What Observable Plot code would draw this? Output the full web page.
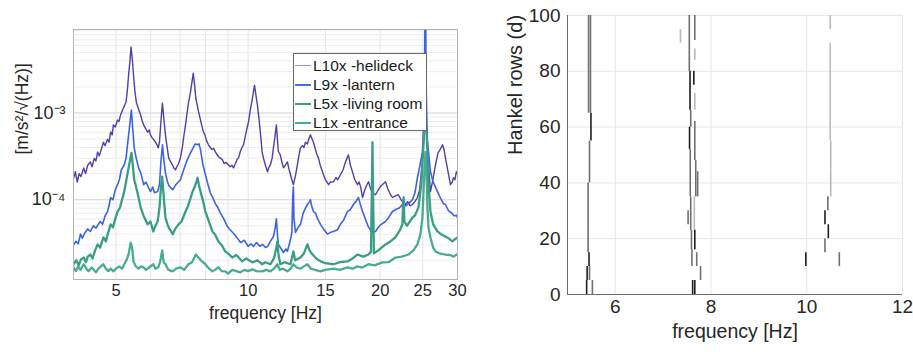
<!DOCTYPE html>
<html><head><meta charset="utf-8">
<script src="https://cdn.jsdelivr.net/npm/d3@7"></script>
<script src="https://cdn.jsdelivr.net/npm/@observablehq/plot@0.6"></script>
<style>
body{margin:0;background:#fff;font-family:"Liberation Sans",Arial,sans-serif}
#wrap{position:relative;width:913px;height:352px;overflow:hidden;background:#fff}
#left{position:absolute;left:0;top:0}
#right{position:absolute;left:460px;top:0}
#legend{position:absolute;left:293px;top:53px;width:134px;height:78px;border:1px solid #666;background:#fff;box-sizing:border-box;font-size:15.5px;color:#1a1a1a}
.row{position:absolute;left:0;height:19px;display:flex;align-items:center;white-space:nowrap}
.ln{display:inline-block;width:16px;margin-left:1px;margin-right:2px}
</style></head>
<body>
<div id="wrap"><div id="left"></div><div id="right"></div><div id="legend"></div></div>
<script>
// ---------- Left panel: spectra [frequency Hz, amplitude m/s^2/sqrt(Hz)] ----------
const l10x = [[4.00,1.75e-4],[4.04,2.1e-4],[4.08,1.6e-4],[4.12,2.0e-4],[4.16,1.85e-4],[4.22,2.33e-4],[4.26,2.0e-4],[4.31,2.5e-4],[4.37,2.73e-4],[4.41,2.4e-4],[4.46,3.0e-4],[4.50,2.8e-4],[4.54,3.56e-4],[4.58,3.2e-4],[4.62,3.7e-4],[4.68,4.6e-4],[4.72,4.2e-4],[4.78,5.0e-4],[4.82,4.6e-4],[4.86,6.05e-4],[4.90,5.6e-4],[4.93,7.3e-4],[4.98,6.9e-4],[5.04,8.3e-4],[5.08,8.0e-4],[5.12,9.5e-4],[5.18,1.1e-3],[5.22,1.2e-3],[5.27,1.34e-3],[5.31,1.9e-3],[5.34,2.73e-3],[5.38,4.0e-3],[5.41,5.78e-3],[5.45,4.0e-3],[5.48,2.73e-3],[5.52,1.8e-3],[5.56,1.34e-3],[5.60,1.2e-3],[5.65,1.05e-3],[5.69,9.5e-4],[5.74,8.0e-4],[5.78,7.3e-4],[5.84,6.6e-4],[5.90,6.0e-4],[5.95,6.4e-4],[5.99,5.6e-4],[6.04,5.2e-4],[6.08,5.0e-4],[6.15,4.6e-4],[6.20,4.3e-4],[6.24,3.96e-4],[6.28,4.6e-4],[6.31,6.5e-4],[6.35,1.0e-3],[6.38,1.30e-3],[6.42,9.0e-4],[6.48,5.6e-4],[6.53,4.2e-4],[6.59,3.04e-4],[6.66,2.73e-4],[6.73,2.5e-4],[6.78,2.3e-4],[6.83,2.21e-4],[6.88,2.4e-4],[6.94,2.6e-4],[7.01,3.04e-4],[7.08,4.0e-4],[7.14,5.5e-4],[7.20,7.3e-4],[7.26,1.0e-3],[7.31,1.3e-3],[7.39,1.74e-3],[7.45,2.3e-3],[7.50,2.88e-3],[7.55,2.1e-3],[7.60,1.49e-3],[7.64,1.3e-3],[7.71,1.03e-3],[7.76,9.0e-4],[7.83,7.4e-4],[7.91,6.05e-4],[7.97,5.6e-4],[8.04,4.8e-4],[8.12,4.3e-4],[8.20,4.0e-4],[8.28,3.8e-4],[8.35,3.9e-4],[8.42,3.56e-4],[8.50,3.3e-4],[8.58,3.1e-4],[8.66,3.0e-4],[8.74,2.88e-4],[8.82,2.6e-4],[8.90,2.7e-4],[9.01,2.53e-4],[9.10,2.4e-4],[9.18,2.5e-4],[9.26,2.33e-4],[9.35,2.6e-4],[9.43,2.9e-4],[9.51,3.04e-4],[9.60,3.6e-4],[9.68,4.0e-4],[9.76,4.3e-4],[9.88,5.8e-4],[10.02,7.9e-4],[10.12,1.1e-3],[10.23,1.49e-3],[10.34,2.10e-3],[10.42,1.6e-3],[10.50,1.24e-3],[10.60,8.0e-4],[10.70,5.0e-4],[10.76,3.56e-4],[10.86,2.9e-4],[10.95,2.5e-4],[11.07,2.1e-4],[11.13,2.3e-4],[11.24,2.53e-4],[11.34,3.0e-4],[11.42,3.96e-4],[11.52,5.5e-4],[11.60,7.3e-4],[11.66,5.0e-4],[11.72,3.6e-4],[11.84,3.29e-4],[11.94,2.7e-4],[12.04,2.33e-4],[12.16,2.5e-4],[12.29,2.73e-4],[12.38,2.3e-4],[12.49,1.94e-4],[12.58,1.7e-4],[12.68,1.49e-4],[12.82,1.9e-4],[12.95,2.53e-4],[13.05,3.2e-4],[13.16,3.96e-4],[13.30,4.2e-4],[13.40,4.0e-4],[13.51,4.6e-4],[13.65,4.4e-4],[13.75,5.0e-4],[13.87,5.6e-4],[13.95,5.2e-4],[14.09,4.6e-4],[14.20,4.0e-4],[14.35,3.3e-4],[14.46,3.04e-4],[14.60,2.5e-4],[14.85,1.94e-4],[15.00,1.7e-4],[15.25,1.49e-4],[15.40,1.6e-4],[15.65,1.61e-4],[15.85,1.8e-4],[16.00,1.7e-4],[16.23,1.94e-4],[16.45,2.2e-4],[16.67,2.73e-4],[16.93,3.29e-4],[17.10,2.5e-4],[17.29,2.10e-4],[17.50,1.7e-4],[17.75,1.49e-4],[17.90,1.6e-4],[18.05,1.4e-4],[18.23,1.06e-4],[18.40,1.25e-4],[18.60,1.45e-4],[18.81,1.61e-4],[19.00,1.35e-4],[19.20,1.2e-4],[19.51,1.14e-4],[19.80,1.3e-4],[20.10,1.45e-4],[20.56,1.61e-4],[20.80,1.35e-4],[21.00,1.2e-4],[21.32,1.06e-4],[21.60,1.1e-4],[21.99,1.14e-4],[22.30,1.0e-4],[22.82,8.8e-5],[23.10,9.5e-5],[23.40,8.5e-5],[23.68,8.8e-5],[24.00,9.5e-5],[24.31,1.06e-4],[24.60,1.3e-4],[24.90,2.5e-4],[25.20,6.0e-4],[25.36,1.0e-3],[25.55,6.0e-4],[25.76,2.5e-4],[26.03,1.24e-4],[26.30,1.6e-4],[26.73,2.53e-4],[27.10,3.5e-4],[27.40,3.8e-4],[27.73,4.3e-4],[27.95,3.8e-4],[28.16,3.04e-4],[28.50,2.2e-4],[28.91,1.49e-4],[29.20,1.6e-4],[29.37,1.79e-4],[29.60,1.7e-4],[29.82,2.10e-4],[30.00,2.0e-4]];
const l9x = [[4.00,3.0e-5],[4.05,3.3e-5],[4.10,3.1e-5],[4.15,4.0e-5],[4.19,3.6e-5],[4.24,4.1e-5],[4.31,4.6e-5],[4.37,4.3e-5],[4.44,5.0e-5],[4.50,4.7e-5],[4.60,5.6e-5],[4.66,5.2e-5],[4.72,6.5e-5],[4.78,7.3e-5],[4.82,8.5e-5],[4.86,1.06e-4],[4.92,1.0e-4],[4.98,1.3e-4],[5.04,1.49e-4],[5.09,1.7e-4],[5.14,2.2e-4],[5.22,2.53e-4],[5.27,3.0e-4],[5.31,4.3e-4],[5.36,6.5e-4],[5.42,1.08e-3],[5.46,6.5e-4],[5.50,3.96e-4],[5.56,3.0e-4],[5.63,2.33e-4],[5.70,2.0e-4],[5.78,1.49e-4],[5.85,1.6e-4],[5.99,1.24e-4],[6.06,1.4e-4],[6.12,1.2e-4],[6.22,1.24e-4],[6.28,1.5e-4],[6.33,2.8e-4],[6.38,4.3e-4],[6.42,3.0e-4],[6.48,2.04e-4],[6.55,1.6e-4],[6.60,1.45e-4],[6.73,1.30e-4],[6.85,1.5e-4],[7.01,1.70e-4],[7.15,2.3e-4],[7.25,2.8e-4],[7.39,3.47e-4],[7.50,4.0e-4],[7.58,4.4e-4],[7.67,4.3e-4],[7.73,4.4e-4],[7.79,3.76e-4],[7.88,2.6e-4],[7.98,2.0e-4],[8.08,1.57e-4],[8.20,1.2e-4],[8.30,1.06e-4],[8.42,9.0e-5],[8.51,8.3e-5],[8.65,7.0e-5],[8.80,6.0e-5],[8.97,4.9e-5],[9.10,4.5e-5],[9.30,4.0e-5],[9.45,3.6e-5],[9.61,3.2e-5],[9.80,3.4e-5],[10.00,2.9e-5],[10.15,3.1e-5],[10.28,2.88e-5],[10.45,3.2e-5],[10.64,2.9e-5],[10.80,3.05e-5],[10.95,2.8e-5],[11.07,2.88e-5],[11.24,3.3e-5],[11.42,3.76e-5],[11.53,4.8e-5],[11.60,6.0e-5],[11.66,4.0e-5],[11.72,3.05e-5],[11.90,2.7e-5],[12.04,2.46e-5],[12.20,2.7e-5],[12.29,2.53e-5],[12.49,3.47e-5],[12.58,4.2e-5],[12.64,1.1e-4],[12.68,1.4e-4],[12.72,6.0e-5],[12.82,4.2e-5],[13.00,4.8e-5],[13.16,5.2e-5],[13.35,7.0e-5],[13.51,8.0e-5],[13.65,8.8e-5],[13.80,9.5e-5],[13.87,1.0e-4],[13.95,8.5e-5],[14.09,7.3e-5],[14.24,7.0e-5],[14.40,6.0e-5],[14.62,5.2e-5],[14.85,4.6e-5],[15.17,4.0e-5],[15.41,4.2e-5],[15.65,4.3e-5],[15.98,4.5e-5],[16.23,5.2e-5],[16.50,5.8e-5],[16.84,7.3e-5],[17.10,7.7e-5],[17.38,8.8e-5],[17.60,9.5e-5],[17.84,1.06e-4],[18.00,9.0e-5],[18.23,7.3e-5],[18.50,6.0e-5],[18.81,4.8e-5],[19.00,4.5e-5],[19.25,4.2e-5],[19.51,4.3e-5],[19.80,4.8e-5],[20.10,5.2e-5],[20.56,5.6e-5],[20.90,6.2e-5],[21.32,7.3e-5],[21.70,7.7e-5],[22.10,8.0e-5],[22.47,8.8e-5],[22.90,8.5e-5],[23.20,9.0e-5],[23.68,1.0e-4],[24.00,1.2e-4],[24.31,1.79e-4],[24.60,2.4e-4],[24.96,3.56e-4],[25.15,8.0e-4],[25.25,4.0e-3],[25.30,2.0e-2],[25.38,2.0e-2],[25.45,2.0e-3],[25.60,5.0e-4],[26.03,2.10e-4],[26.40,1.6e-4],[27.01,1.24e-4],[27.40,1.06e-4],[27.87,9.0e-5],[28.16,8.8e-5],[28.60,7.5e-5],[29.21,6.9e-5],[29.50,6.5e-5],[29.82,6.6e-5],[30.00,6.2e-5]];
const l5x = [[4.00,1.80e-5],[4.06,2.0e-5],[4.11,1.75e-5],[4.16,2.05e-5],[4.22,2.15e-5],[4.27,1.9e-5],[4.31,2.2e-5],[4.37,2.33e-5],[4.42,2.1e-5],[4.48,2.6e-5],[4.54,3.05e-5],[4.60,2.8e-5],[4.68,3.67e-5],[4.74,3.3e-5],[4.80,4.2e-5],[4.86,5.2e-5],[4.92,4.8e-5],[4.98,6.0e-5],[5.04,7.3e-5],[5.10,8.0e-5],[5.16,1.0e-4],[5.22,1.24e-4],[5.28,1.7e-4],[5.34,2.33e-4],[5.42,3.47e-4],[5.46,2.5e-4],[5.50,1.7e-4],[5.54,1.49e-4],[5.62,1.1e-4],[5.69,8.1e-5],[5.78,6.5e-5],[5.90,5.2e-5],[5.99,5.6e-5],[6.08,4.3e-5],[6.15,5.0e-5],[6.22,5.6e-5],[6.28,8.0e-5],[6.33,1.4e-4],[6.37,1.85e-4],[6.42,1.1e-4],[6.48,6.2e-5],[6.55,5.2e-5],[6.59,4.8e-5],[6.66,4.4e-5],[6.73,4.0e-5],[6.82,4.6e-5],[6.94,5.2e-5],[7.05,5.6e-5],[7.20,7.3e-5],[7.30,8.5e-5],[7.47,1.24e-4],[7.55,1.4e-4],[7.62,1.6e-4],[7.67,1.79e-4],[7.72,1.5e-4],[7.79,1.24e-4],[7.90,9.5e-5],[7.99,7.3e-5],[8.10,6.0e-5],[8.29,4.3e-5],[8.40,4.0e-5],[8.56,3.3e-5],[8.70,3.0e-5],[8.87,2.53e-5],[9.00,2.4e-5],[9.20,2.15e-5],[9.40,2.3e-5],[9.70,1.94e-5],[9.90,2.1e-5],[10.23,1.89e-5],[10.50,2.0e-5],[10.76,1.80e-5],[10.95,1.9e-5],[11.24,1.80e-5],[11.45,2.1e-5],[11.60,2.8e-5],[11.66,3.3e-5],[11.72,2.4e-5],[11.84,1.80e-5],[12.10,1.9e-5],[12.49,1.80e-5],[12.60,2.2e-5],[12.68,2.53e-5],[12.80,2.0e-5],[13.16,2.15e-5],[13.40,2.4e-5],[13.65,3.05e-5],[13.80,2.6e-5],[14.02,2.33e-5],[14.30,2.1e-5],[14.62,1.94e-5],[15.00,1.85e-5],[15.65,1.80e-5],[16.20,1.9e-5],[16.84,1.94e-5],[17.30,2.1e-5],[17.75,2.33e-5],[18.30,2.2e-5],[18.81,2.33e-5],[19.05,2.5e-5],[19.15,1.5e-4],[19.20,4.6e-4],[19.25,1.5e-4],[19.35,2.4e-5],[19.80,2.6e-5],[20.56,3.05e-5],[21.10,3.3e-5],[21.66,3.67e-5],[22.20,4.5e-5],[22.47,5.2e-5],[22.55,9.0e-5],[22.62,1.06e-4],[22.70,5.6e-5],[23.00,5.0e-5],[23.68,6.2e-5],[24.00,6.6e-5],[24.44,8.1e-5],[24.80,1.5e-4],[24.96,2.53e-4],[25.10,4.5e-4],[25.22,7.3e-4],[25.36,7.5e-4],[25.50,6.0e-4],[25.62,3.5e-4],[25.76,1.5e-4],[26.03,7.3e-5],[26.40,5.2e-5],[27.01,4.3e-5],[27.50,4.0e-5],[28.16,3.76e-5],[28.60,3.6e-5],[29.21,3.30e-5],[29.60,3.5e-5],[30.00,3.67e-5]];
const l1x = [[4.00,1.66e-5],[4.05,1.5e-5],[4.10,1.7e-5],[4.15,1.55e-5],[4.22,1.80e-5],[4.28,1.6e-5],[4.33,1.5e-5],[4.40,1.65e-5],[4.44,1.57e-5],[4.50,1.45e-5],[4.56,1.6e-5],[4.62,1.7e-5],[4.68,1.80e-5],[4.74,1.6e-5],[4.80,1.5e-5],[4.86,1.6e-5],[4.93,1.49e-5],[5.00,1.6e-5],[5.08,1.7e-5],[5.16,1.6e-5],[5.22,1.80e-5],[5.28,2.0e-5],[5.34,2.33e-5],[5.40,3.2e-5],[5.44,2.8e-5],[5.48,1.94e-5],[5.55,1.7e-5],[5.63,1.6e-5],[5.70,1.7e-5],[5.78,1.66e-5],[5.85,1.55e-5],[5.95,1.65e-5],[6.08,1.80e-5],[6.15,1.6e-5],[6.24,1.66e-5],[6.30,1.9e-5],[6.37,2.6e-5],[6.42,1.9e-5],[6.48,1.80e-5],[6.58,1.55e-5],[6.73,1.49e-5],[6.85,1.6e-5],[7.01,1.66e-5],[7.15,1.55e-5],[7.31,1.80e-5],[7.45,1.9e-5],[7.60,2.33e-5],[7.71,2.15e-5],[7.80,2.0e-5],[7.99,1.80e-5],[8.15,1.6e-5],[8.29,1.49e-5],[8.40,1.55e-5],[8.56,1.66e-5],[8.70,1.5e-5],[8.87,1.49e-5],[9.00,1.4e-5],[9.20,1.55e-5],[9.40,1.5e-5],[9.60,1.45e-5],[9.80,1.55e-5],[10.00,1.5e-5],[10.23,1.57e-5],[10.45,1.5e-5],[10.76,1.49e-5],[11.00,1.55e-5],[11.24,1.49e-5],[11.45,1.6e-5],[11.66,1.80e-5],[11.80,1.55e-5],[12.00,1.6e-5],[12.29,1.49e-5],[12.50,1.6e-5],[12.68,1.80e-5],[12.90,1.65e-5],[13.16,1.6e-5],[13.40,1.7e-5],[13.65,1.80e-5],[13.90,1.6e-5],[14.20,1.55e-5],[14.62,1.49e-5],[15.00,1.55e-5],[15.65,1.6e-5],[16.20,1.55e-5],[16.84,1.66e-5],[17.30,1.6e-5],[17.75,1.70e-5],[18.20,1.65e-5],[18.81,1.80e-5],[19.40,1.75e-5],[20.24,1.89e-5],[20.90,1.9e-5],[21.66,2.15e-5],[22.40,2.2e-5],[23.19,2.33e-5],[23.80,2.6e-5],[24.31,3.05e-5],[24.70,4.0e-5],[24.96,6.2e-5],[25.15,1.6e-4],[25.36,3.56e-4],[25.50,2.0e-4],[25.62,8.0e-5],[25.76,4.8e-5],[26.03,3.67e-5],[26.40,2.8e-5],[26.73,2.53e-5],[27.30,2.4e-5],[28.16,2.33e-5],[28.90,2.3e-5],[29.40,2.2e-5],[29.82,2.33e-5],[30.00,2.3e-5]];
const seriesNames = ["L10x -helideck", "L9x -lantern", "L5x -living room", "L1x -entrance"];
const leftXTicks = [5, 10, 15, 20, 25, 30];
const leftXGrid = [4, 5, 6, 7, 8, 9, 10, 15, 20, 25, 30];
const leftYTicks = [1e-4, 1e-3];
const leftYGrid = [2e-5,3e-5,4e-5,5e-5,6e-5,7e-5,8e-5,9e-5,1e-4,2e-4,3e-4,4e-4,5e-4,6e-4,7e-4,8e-4,9e-4,1e-3,2e-3,3e-3,4e-3,5e-3,6e-3,7e-3,8e-3,9e-3];

// ---------- Right panel: stabilization diagram segments ----------
// f: frequency [Hz], d0..d1: Hankel rows range, w: stability weight (1 weak .. 3 strong)
const stab = [
 {f:5.44,d0:65,d1:100,w:2},{f:5.48,d0:65,d1:100,w:2},{f:5.49,d0:55,d1:65,w:3},{f:5.46,d0:40,d1:55,w:2},
 {f:5.43,d0:25,d1:40,w:2},{f:5.43,d0:15,d1:25,w:2},{f:5.45,d0:10,d1:15,w:3},{f:5.41,d0:5,d1:10,w:3},
 {f:5.46,d0:5,d1:10,w:2},{f:5.40,d0:0,d1:5,w:3},{f:5.52,d0:0,d1:5,w:2},
 {f:7.545,d0:80,d1:100,w:2},{f:7.56,d0:66,d1:80,w:3},{f:7.575,d0:60,d1:66,w:2},{f:7.55,d0:52,d1:60,w:3},
 {f:7.565,d0:35,d1:52,w:2},{f:7.575,d0:23,d1:35,w:2},{f:7.59,d0:16,d1:23,w:2},{f:7.60,d0:10,d1:16,w:2},
 {f:7.615,d0:0,d1:5,w:3},
 {f:7.66,d0:91,d1:100,w:2},{f:7.66,d0:84,d1:88,w:1},{f:7.64,d0:75,d1:80,w:3},{f:7.66,d0:66,d1:72,w:1},
 {f:7.66,d0:48,d1:62,w:2},{f:7.68,d0:35,d1:48,w:2},{f:7.72,d0:35,d1:44,w:2},{f:7.65,d0:23,d1:35,w:1},
 {f:7.66,d0:16,d1:23,w:3},{f:7.70,d0:10,d1:15,w:2},{f:7.78,d0:5,d1:10,w:2},{f:7.66,d0:0,d1:5,w:3},
 {f:7.36,d0:90,d1:95,w:1},{f:7.52,d0:25,d1:30,w:2},
 {f:10.49,d0:95,d1:100,w:1},{f:10.49,d0:55,d1:90,w:1},{f:10.50,d0:45,d1:55,w:1},{f:10.50,d0:35,d1:45,w:1},
 {f:10.44,d0:30,d1:35,w:2},{f:10.38,d0:25,d1:30,w:3},{f:10.45,d0:20,d1:25,w:3},{f:10.38,d0:15,d1:20,w:2},
 {f:9.98,d0:10,d1:15,w:3},{f:10.68,d0:10,d1:15,w:2}
];
const rightXTicks = [6, 8, 10, 12];
const rightYTicks = [0, 20, 40, 60, 80, 100];

// ---------- drawing ----------
const FONT = "Liberation Sans, Arial, Helvetica, sans-serif";
const supMap = {"-":"⁻","0":"⁰","1":"¹","2":"²","3":"³","4":"⁴","5":"⁵","6":"⁶","7":"⁷","8":"⁸","9":"⁹"};
const logFmt = v => "10" + String(Math.round(Math.log10(v))).split("").map(c => supMap[c]).join("");
const colors = {l10: "#4f3fa6", l9: "#3d63e0", l5: "#3a9d86", l1: "#48ac93"};
const legendColors = ["#9a8fd2", "#4a6fe3", "#3a9d86", "#47ab92"];

const pt = {x: d => d[0], y: d => d[1], clip: true};
const left = Plot.plot({
  width: 470, height: 352,
  marginLeft: 73, marginRight: 13, marginTop: 29, marginBottom: 73,
  style: {fontFamily: FONT, fontSize: "16px", color: "#262626", background: "transparent", overflow: "visible"},
  x: {type: "log", domain: [4, 30], axis: null},
  y: {type: "log", domain: [1.2e-5, 9.2e-3], axis: null},
  marks: [
    Plot.ruleX(leftXGrid, {stroke: "#e3e3e3", strokeWidth: 1}),
    Plot.ruleY(leftYGrid, {stroke: "#ececec", strokeWidth: 1}),
    Plot.ruleY(leftYTicks, {stroke: "#dadada", strokeWidth: 1}),
    Plot.line(l10x, {...pt, stroke: colors.l10, strokeWidth: 1.4}),
    Plot.line(l9x, {...pt, stroke: colors.l9, strokeWidth: 1.6}),
    Plot.line(l1x, {...pt, stroke: colors.l1, strokeWidth: 2.3}),
    Plot.line(l5x, {...pt, stroke: colors.l5, strokeWidth: 2.3}),
    Plot.frame({stroke: "#b5b5b5"}),
    Plot.text(leftXTicks, {x: d => d, frameAnchor: "bottom", dy: 16, text: d => String(d), fontSize: 16.5, fill: "#262626"}),
    Plot.text(leftYTicks, {y: d => d, frameAnchor: "left", dx: -8, textAnchor: "end", text: logFmt, fontSize: 18, fill: "#262626"}),
    Plot.text(["frequency [Hz]"], {frameAnchor: "bottom", dy: 39, text: d => d, fontSize: 17.5, fill: "#262626"}),
    Plot.text(["[m/s²/√(Hz)]"], {frameAnchor: "left", dx: -51, rotate: -90, text: d => d, fontSize: 17.5, fill: "#262626"})
  ]
});
document.getElementById("left").appendChild(left);

const legend = document.getElementById("legend");
seriesNames.forEach((name, i) => {
  const row = document.createElement("div");
  row.className = "row";
  row.style.top = (2 + i * 19) + "px";
  const ln = document.createElement("span");
  ln.className = "ln";
  ln.style.borderTop = (i === 0 ? 1.2 : 2) + "px solid " + legendColors[i];
  const tx = document.createElement("span");
  tx.textContent = name;
  row.appendChild(ln); row.appendChild(tx);
  legend.appendChild(row);
});

const right = Plot.plot({
  width: 453, height: 352,
  marginLeft: 107, marginRight: 11, marginTop: 15, marginBottom: 58,
  style: {fontFamily: FONT, fontSize: "19px", color: "#262626", background: "transparent", overflow: "visible"},
  x: {domain: [5, 12], axis: null},
  y: {domain: [0, 100], axis: null},
  color: {type: "ordinal", domain: [1, 2, 3], range: ["#b9b9b9", "#6f6f6f", "#1e1e1e"]},
  marks: [
    Plot.ruleX(rightXTicks, {stroke: "#e6e6e6"}),
    Plot.ruleY(rightYTicks.slice(1), {stroke: "#e6e6e6"}),
    Plot.ruleX(stab, {x: "f", y1: "d0", y2: "d1", stroke: "w", strokeWidth: 1.6}),
    Plot.ruleX([5], {stroke: "#6b6b6b"}),
    Plot.ruleY([0], {stroke: "#6b6b6b"}),
    Plot.text(rightXTicks, {x: d => d, frameAnchor: "bottom", dy: 18, text: d => String(d), fontSize: 19, fill: "#262626"}),
    Plot.text(rightYTicks, {y: d => d, frameAnchor: "left", dx: -7, textAnchor: "end", text: d => String(d), fontSize: 19, fill: "#262626"}),
    Plot.text(["frequency [Hz]"], {frameAnchor: "bottom", dy: 43, text: d => d, fontSize: 19.5, fill: "#262626"}),
    Plot.text(["Hankel rows (d)"], {frameAnchor: "left", dx: -52, rotate: -90, text: d => d, fontSize: 20, fill: "#262626"})
  ]
});
document.getElementById("right").appendChild(right);
</script>
</body></html>
